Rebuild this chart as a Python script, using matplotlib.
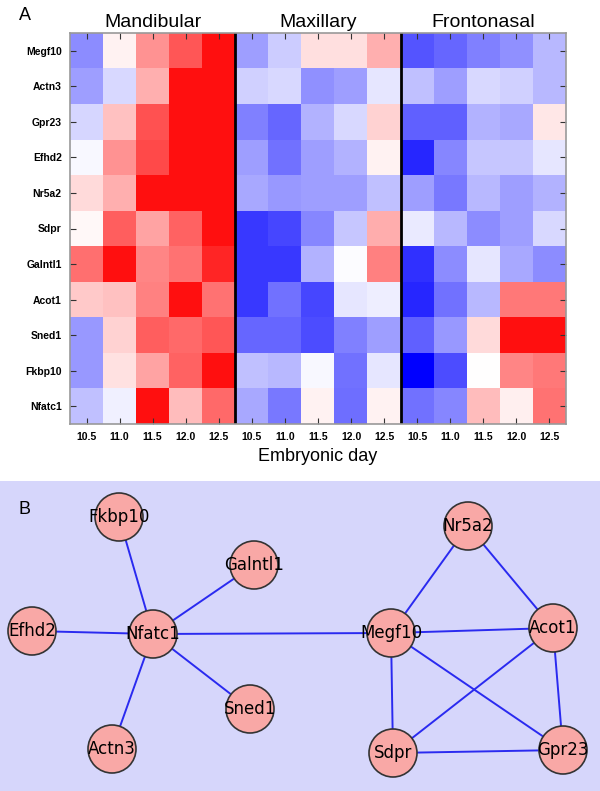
import numpy as np
import matplotlib
matplotlib.use("Agg")
import matplotlib.pyplot as plt
from matplotlib.colors import LinearSegmentedColormap
from matplotlib.patches import Circle, Rectangle

# panel A data
genes = ["Megf10", "Actn3", "Gpr23", "Efhd2", "Nr5a2", "Sdpr",
         "Galntl1", "Acot1", "Sned1", "Fkbp10", "Nfatc1"]
days = ["10.5", "11.0", "11.5", "12.0", "12.5"]
regions = ["Mandibular", "Maxillary", "Frontonasal"]

mandibular = [
    [-0.45, 0.05, 0.45, 0.70, 1.00],
    [-0.38, -0.15, 0.33, 1.00, 1.00],
    [-0.16, 0.25, 0.72, 1.00, 1.00],
    [-0.03, 0.45, 0.75, 1.00, 1.00],
    [0.15, 0.33, 1.00, 1.00, 1.00],
    [0.03, 0.67, 0.38, 0.65, 1.00],
    [0.60, 1.00, 0.50, 0.58, 0.90],
    [0.22, 0.25, 0.52, 1.00, 0.58],
    [-0.40, 0.18, 0.67, 0.62, 0.70],
    [-0.40, 0.12, 0.38, 0.65, 1.00],
    [-0.25, -0.06, 1.00, 0.28, 0.62],
]
maxillary = [
    [-0.38, -0.20, 0.13, 0.13, 0.33],
    [-0.18, -0.15, -0.43, -0.38, -0.10],
    [-0.50, -0.60, -0.30, -0.15, 0.18],
    [-0.38, -0.55, -0.38, -0.30, 0.05],
    [-0.34, -0.40, -0.38, -0.38, -0.25],
    [-0.78, -0.72, -0.47, -0.22, 0.34],
    [-0.78, -0.78, -0.30, -0.01, 0.53],
    [-0.78, -0.55, -0.72, -0.10, -0.07],
    [-0.60, -0.60, -0.70, -0.50, -0.38],
    [-0.25, -0.28, -0.03, -0.55, -0.10],
    [-0.34, -0.53, 0.05, -0.57, 0.05],
]
frontonasal = [
    [-0.67, -0.60, -0.50, -0.43, -0.28],
    [-0.25, -0.38, -0.15, -0.18, -0.28],
    [-0.62, -0.62, -0.30, -0.34, 0.10],
    [-0.85, -0.47, -0.22, -0.22, -0.10],
    [-0.38, -0.53, -0.28, -0.38, -0.30],
    [-0.08, -0.28, -0.45, -0.38, -0.15],
    [-0.81, -0.45, -0.10, -0.34, -0.45],
    [-0.85, -0.55, -0.28, 0.56, 0.56],
    [-0.62, -0.40, 0.15, 1.00, 1.00],
    [-1.00, -0.70, 0.00, 0.50, 0.56],
    [-0.55, -0.47, 0.28, 0.07, 0.58],
]

# panel B network
node_names = ["Fkbp10", "Galntl1", "Efhd2", "Nfatc1", "Sned1", "Actn3",
              "Nr5a2", "Megf10", "Acot1", "Sdpr", "Gpr23"]
node_x = [119, 254, 32, 153, 250, 112, 468, 391, 553, 393, 563]
node_y = [517, 565, 631, 634, 709, 749, 526, 633, 628, 753, 750]
links = [("Nfatc1", "Fkbp10"), ("Nfatc1", "Galntl1"), ("Nfatc1", "Efhd2"),
         ("Nfatc1", "Sned1"), ("Nfatc1", "Actn3"), ("Nfatc1", "Megf10"),
         ("Megf10", "Nr5a2"), ("Nr5a2", "Acot1"), ("Megf10", "Acot1"),
         ("Megf10", "Sdpr"), ("Megf10", "Gpr23"), ("Acot1", "Sdpr"),
         ("Acot1", "Gpr23"), ("Sdpr", "Gpr23")]

W, H = 600, 791
fig = plt.figure(figsize=(6, 7.91), dpi=100)

# ---- panel A: heatmap ----
vals = np.hstack([np.array(mandibular), np.array(maxillary), np.array(frontonasal)])
cmap = LinearSegmentedColormap.from_list(
    "bwr2", [(0, 0, 1), (1, 1, 1), (1, 0.06, 0.06)])

ax = fig.add_axes([70 / W, 1 - 424 / H, 496 / W, 391 / H])
ax.imshow(vals, cmap=cmap, vmin=-1, vmax=1, aspect="auto",
          interpolation="nearest")
ncol = vals.shape[1]
ax.set_xticks(range(ncol))
ax.set_xticklabels(days * 3, fontsize=7.5, family="Liberation Sans", weight="bold")
ax.set_yticks(range(len(genes)))
ax.set_yticklabels(genes, fontsize=7.5, family="Liberation Sans", weight="bold")
ax.tick_params(direction="in", length=4, width=0.8, color="#333333",
               top=True, right=True, pad=6)
for s in ax.spines.values():
    s.set_color("#999999")
    s.set_linewidth(1.2)
for b in [4.5, 9.5]:
    ax.axvline(b, color="black", lw=2)
for i, r in enumerate(regions):
    ax.text(2 + 5 * i, -0.68, r, ha="center", va="baseline", fontsize=14,
            family="Liberation Sans")
ax.set_xlabel("Embryonic day", fontsize=13, family="Liberation Sans", labelpad=4)
fig.text(25 / W, 1 - 16 / H, "A", fontsize=13, family="Liberation Sans",
         ha="center", va="center")

# ---- panel B: network ----
bx = fig.add_axes([0, 0, 1, 310 / H])
bx.set_xlim(0, W)
bx.set_ylim(H, H - 310)
bx.axis("off")
bx.add_patch(Rectangle((0, H - 310), W, 310, facecolor="#d6d6fb",
                       edgecolor="none", zorder=0))
pos = {n: (x, y) for n, x, y in zip(node_names, node_x, node_y)}
for a, b in links:
    bx.plot([pos[a][0], pos[b][0]], [pos[a][1], pos[b][1]],
            color="#2a2af0", lw=1.4, zorder=1)
for n in node_names:
    x, y = pos[n]
    bx.add_patch(Circle((x, y), 24, facecolor="#f9a8a6", edgecolor="#333333",
                        lw=1.2, zorder=2))
    bx.text(x, y, n, ha="center", va="center", fontsize=12, zorder=3)
bx.text(25, 509, "B", fontsize=13, family="Liberation Sans",
        ha="center", va="center")

fig.savefig("out.png", dpi=100)
